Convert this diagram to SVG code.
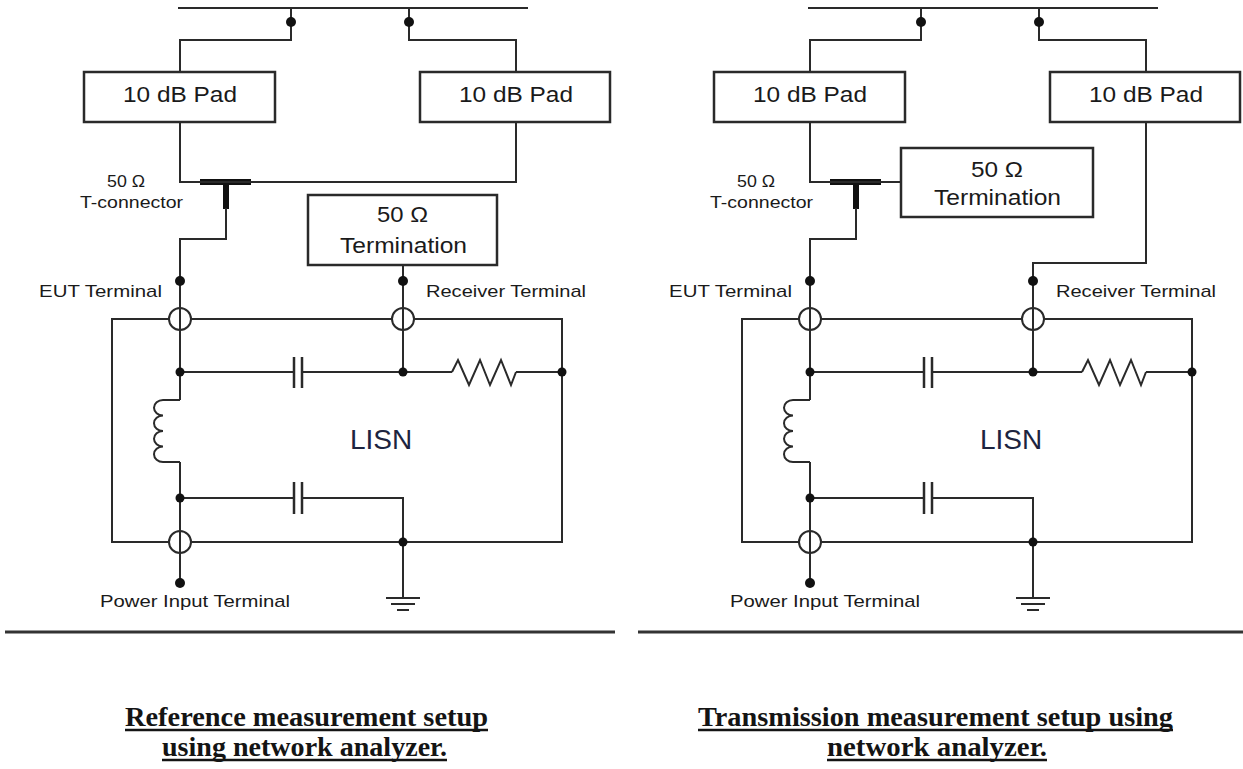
<svg xmlns="http://www.w3.org/2000/svg" width="1243" height="769" viewBox="0 0 1243 769">
<style>
.w{fill:none;stroke:#2a2a2a;stroke-width:2}
.pl{fill:none;stroke:#2a2a2a;stroke-width:2.5}
.box{fill:#fff;stroke:#2a2a2a;stroke-width:2.5}
.tc{fill:none;stroke:#111;stroke-width:6}
.dot{fill:#111}
.ring{fill:#fff;stroke:#2a2a2a;stroke-width:2}
.lbl{font-family:"Liberation Sans",Arial,sans-serif;fill:#1a1a1a}
.big{font-size:22px}
.sm{font-size:17px}
.lisn{font-family:"Liberation Sans",Arial,sans-serif;font-size:28px;fill:#1c2440;text-anchor:middle}
.cap{font-family:"Liberation Serif","Times New Roman",serif;font-weight:bold;font-size:28px;fill:#141414}
.ul{stroke:#141414;stroke-width:2.5}
.sep{stroke:#333;stroke-width:3}
</style>
<defs>
<path id="coil" d="M180,400 H163 a9,7.75 0 0 0 0,15.5 a9,7.75 0 0 0 0,15.5 a9,7.75 0 0 0 0,15.5 a9,7.75 0 0 0 0,15.5 H180"/>
</defs>
<rect width="1243" height="769" fill="#fff"/>

<!-- LEFT PANEL -->
<g id="panel-left">
  <g id="lisn-left">
    <rect class="w" x="112" y="319" width="450" height="223"/>
    <text class="lisn" x="381" y="449">LISN</text>
  </g>
  <g id="pad1-left">
    <rect class="box" x="84" y="72" width="191" height="50"/>
    <text class="lbl big" x="123" y="102" textLength="114" lengthAdjust="spacingAndGlyphs">10 dB Pad</text>
  </g>
  <g id="pad2-left">
    <rect class="box" x="420" y="72" width="190" height="50"/>
    <text class="lbl big" x="459" y="102" textLength="114" lengthAdjust="spacingAndGlyphs">10 dB Pad</text>
  </g>
  <g id="termination-left">
    <rect class="box" x="308" y="195" width="189" height="70"/>
    <text class="lbl big" x="377" y="222" textLength="51" lengthAdjust="spacingAndGlyphs">50 Ω</text>
    <text class="lbl big" x="340" y="253" textLength="127" lengthAdjust="spacingAndGlyphs">Termination</text>
  </g>
  <g id="tconn-left">
    <path class="tc" d="M200,182 H251 M226,182 V209"/>
    <text class="lbl sm" x="107" y="187" textLength="38" lengthAdjust="spacingAndGlyphs">50 Ω</text>
    <text class="lbl sm" x="80" y="208" textLength="103" lengthAdjust="spacingAndGlyphs">T-connector</text>
  </g>
  <g id="eut-terminal-left">
    <circle class="ring" cx="180" cy="319" r="11"/>
    <text class="lbl sm" x="39" y="297" textLength="123" lengthAdjust="spacingAndGlyphs">EUT Terminal</text>
  </g>
  <g id="receiver-terminal-left">
    <circle class="ring" cx="403" cy="319" r="11"/>
    <text class="lbl sm" x="426" y="297" textLength="160" lengthAdjust="spacingAndGlyphs">Receiver Terminal</text>
  </g>
  <g id="power-terminal-left">
    <circle class="ring" cx="180" cy="542" r="11"/>
    <text class="lbl sm" x="100" y="607" textLength="190" lengthAdjust="spacingAndGlyphs">Power Input Terminal</text>
  </g>
  <g id="connectors-left" class="w">
    <path d="M178,8 H528"/>
    <path d="M291,8 V40 H180 V72"/>
    <path d="M409,8 V40 H516 V72"/>
    <path d="M180,122 V182 H516 V122"/>
    <path d="M226,208 V239 H180 V280"/>
    <path d="M403,265 V372"/>
    <path d="M180,280 V400 M180,462 V583"/>
    <use href="#coil"/>
    <path d="M180,372 H294 M302,372 H403"/>
    <path d="M403,372 H452 M516,372 H562"/>
    <path d="M180,498 H294 M302,498 H403 V598"/>
  </g>
  <g id="cap1-left"><path class="pl" d="M294,357 V388 M302,357 V388"/></g>
  <g id="cap2-left"><path class="pl" d="M294,482 V514 M302,482 V514"/></g>
  <g id="res-left"><polyline class="w" points="452,372 458,360 469,385 480,360 490,385 501,360 511,385 516,372"/></g>
  <g id="ground-left"><path class="w" d="M386,598 H420 M391,604 H415 M397,610 H409"/></g>
  <g id="dots-left" class="dot">
    <circle cx="291" cy="22" r="5"/><circle cx="409" cy="22" r="5"/>
    <circle cx="180" cy="281" r="5"/><circle cx="403" cy="281" r="5"/>
    <circle cx="180" cy="372" r="4.5"/><circle cx="403" cy="372" r="4.5"/><circle cx="562" cy="372" r="4.5"/>
    <circle cx="180" cy="498" r="4.5"/><circle cx="403" cy="542" r="4.5"/>
    <circle cx="180" cy="583" r="5"/>
  </g>
</g>

<!-- RIGHT PANEL -->
<g id="panel-right" transform="translate(630,0)">
  <g id="lisn-right">
    <rect class="w" x="112" y="319" width="450" height="223"/>
    <text class="lisn" x="381" y="449">LISN</text>
  </g>
  <g id="pad1-right">
    <rect class="box" x="84" y="72" width="191" height="50"/>
    <text class="lbl big" x="123" y="102" textLength="114" lengthAdjust="spacingAndGlyphs">10 dB Pad</text>
  </g>
  <g id="pad2-right">
    <rect class="box" x="420" y="72" width="190" height="50"/>
    <text class="lbl big" x="459" y="102" textLength="114" lengthAdjust="spacingAndGlyphs">10 dB Pad</text>
  </g>
  <g id="termination-right">
    <rect class="box" x="271" y="148" width="192" height="69"/>
    <text class="lbl big" x="341" y="177" textLength="52" lengthAdjust="spacingAndGlyphs">50 Ω</text>
    <text class="lbl big" x="304" y="205" textLength="127" lengthAdjust="spacingAndGlyphs">Termination</text>
  </g>
  <g id="tconn-right">
    <path class="tc" d="M200,182 H251 M226,182 V209"/>
    <text class="lbl sm" x="107" y="187" textLength="38" lengthAdjust="spacingAndGlyphs">50 Ω</text>
    <text class="lbl sm" x="80" y="208" textLength="103" lengthAdjust="spacingAndGlyphs">T-connector</text>
  </g>
  <g id="eut-terminal-right">
    <circle class="ring" cx="180" cy="319" r="11"/>
    <text class="lbl sm" x="39" y="297" textLength="123" lengthAdjust="spacingAndGlyphs">EUT Terminal</text>
  </g>
  <g id="receiver-terminal-right">
    <circle class="ring" cx="403" cy="319" r="11"/>
    <text class="lbl sm" x="426" y="297" textLength="160" lengthAdjust="spacingAndGlyphs">Receiver Terminal</text>
  </g>
  <g id="power-terminal-right">
    <circle class="ring" cx="180" cy="542" r="11"/>
    <text class="lbl sm" x="100" y="607" textLength="190" lengthAdjust="spacingAndGlyphs">Power Input Terminal</text>
  </g>
  <g id="connectors-right" class="w">
    <path d="M178,8 H528"/>
    <path d="M291,8 V40 H180 V72"/>
    <path d="M409,8 V40 H516 V72"/>
    <path d="M180,122 V182 H271"/>
    <path d="M516,122 V263 H403 V372"/>
    <path d="M226,208 V239 H180 V280"/>
    <path d="M180,280 V400 M180,462 V583"/>
    <use href="#coil"/>
    <path d="M180,372 H294 M302,372 H403"/>
    <path d="M403,372 H452 M516,372 H562"/>
    <path d="M180,498 H294 M302,498 H403 V598"/>
  </g>
  <g id="cap1-right"><path class="pl" d="M294,357 V388 M302,357 V388"/></g>
  <g id="cap2-right"><path class="pl" d="M294,482 V514 M302,482 V514"/></g>
  <g id="res-right"><polyline class="w" points="452,372 458,360 469,385 480,360 490,385 501,360 511,385 516,372"/></g>
  <g id="ground-right"><path class="w" d="M386,598 H420 M391,604 H415 M397,610 H409"/></g>
  <g id="dots-right" class="dot">
    <circle cx="291" cy="22" r="5"/><circle cx="409" cy="22" r="5"/>
    <circle cx="180" cy="281" r="5"/><circle cx="403" cy="281" r="5"/>
    <circle cx="180" cy="372" r="4.5"/><circle cx="403" cy="372" r="4.5"/><circle cx="562" cy="372" r="4.5"/>
    <circle cx="180" cy="498" r="4.5"/><circle cx="403" cy="542" r="4.5"/>
    <circle cx="180" cy="583" r="5"/>
  </g>
</g>

<!-- separators and captions -->
<g id="separators">
  <line class="sep" x1="5" y1="632" x2="615" y2="632"/>
  <line class="sep" x1="638" y1="632" x2="1243" y2="632"/>
</g>
<g id="caption-left">
  <text class="cap" x="125" y="726" textLength="363" lengthAdjust="spacingAndGlyphs">Reference measurement setup</text>
  <line class="ul" x1="125" y1="730" x2="488" y2="730"/>
  <text class="cap" x="162" y="756" textLength="285" lengthAdjust="spacingAndGlyphs">using network analyzer.</text>
  <line class="ul" x1="162" y1="760" x2="447" y2="760"/>
</g>
<g id="caption-right">
  <text class="cap" x="698" y="726" textLength="475" lengthAdjust="spacingAndGlyphs">Transmission measurement setup using</text>
  <line class="ul" x1="698" y1="730" x2="1173" y2="730"/>
  <text class="cap" x="827" y="756" textLength="220" lengthAdjust="spacingAndGlyphs">network analyzer.</text>
  <line class="ul" x1="827" y1="760" x2="1047" y2="760"/>
</g>
</svg>
